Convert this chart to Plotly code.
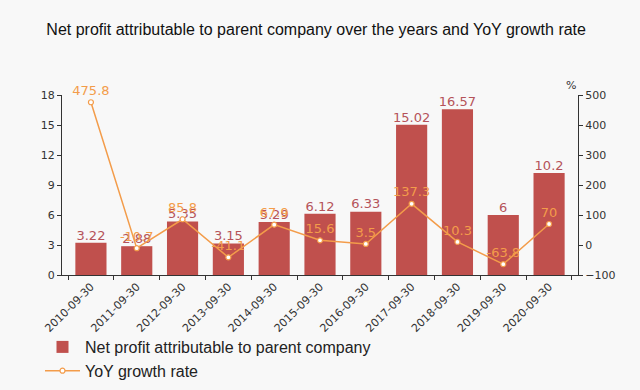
import plotly.graph_objects as go

years = ["2010-09-30", "2011-09-30", "2012-09-30", "2013-09-30", "2014-09-30", "2015-09-30",
         "2016-09-30", "2017-09-30", "2018-09-30", "2019-09-30", "2020-09-30"]
net_profit = [3.22, 2.88, 5.35, 3.15, 5.29, 6.12, 6.33, 15.02, 16.57, 6, 10.2]
yoy_growth = [475.8, -10.7, 85.8, -41.1, 67.9, 15.6, 3.5, 137.3, 10.3, -63.8, 70]
left_ticks = [0, 3, 6, 9, 12, 15, 18]
right_ticks = [-100, 0, 100, 200, 300, 400, 500]

bar_color = "#c0504d"
line_color = "#f39c4a"
bg = "#f8f8f8"

fig = go.Figure()
fig.add_trace(go.Bar(
    x=years, y=net_profit, name="Net profit attributable to parent company",
    marker=dict(color=bar_color, line=dict(width=0)), width=0.68,
))
fig.add_trace(go.Scatter(
    x=years, y=net_profit, mode="text", showlegend=False, hoverinfo="skip",
    text=[str(v) for v in net_profit], textposition="top center", cliponaxis=False,
    textfont=dict(color="#b5535a", size=13, family="DejaVu Sans"),
))
fig.add_trace(go.Scatter(
    x=years, y=yoy_growth, name="YoY growth rate", yaxis="y2", mode="lines+markers+text",
    line=dict(color=line_color, width=1.5),
    marker=dict(size=5, color="white", line=dict(color=line_color, width=1.2)),
    text=[str(v) for v in yoy_growth], textposition="top center", cliponaxis=False,
    textfont=dict(color=line_color, size=13, family="DejaVu Sans"),
))

axis_font = dict(family="DejaVu Sans", size=11, color="#333")
fig.update_layout(
    width=640, height=390,
    paper_bgcolor=bg, plot_bgcolor=bg,
    margin=dict(l=62, r=62, t=95, b=115, autoexpand=False),
    title=dict(text="Net profit attributable to parent company over the years and YoY growth rate",
               x=0.494, xanchor="center", y=0.925, yanchor="middle",
               font=dict(family="Liberation Sans", size=16, color="#111")),
    bargap=0.32,
    xaxis=dict(type="category", tickangle=-45, tickfont=axis_font, showgrid=False,
               showline=True, linecolor="#333", linewidth=1, ticks="outside", ticklen=4,
               tickcolor="#333", tickson="boundaries", automargin=False),
    yaxis=dict(range=[0, 18], tickvals=left_ticks, tickfont=axis_font, showgrid=False,
               showline=True, linecolor="#333", linewidth=1, ticks="outside", ticklen=4,
               tickcolor="#333", zeroline=False, automargin=False),
    yaxis2=dict(range=[-100, 500], tickvals=right_ticks, tickfont=axis_font, showgrid=False,
                overlaying="y", side="right", showline=True, linecolor="#333", linewidth=1,
                ticks="outside", ticklen=4, tickcolor="#333", zeroline=False, automargin=False),
    legend=dict(x=40 / 640, y=1 - 330 / 390, xref="container", yref="container",
                xanchor="left", yanchor="top", orientation="v",
                font=dict(family="Liberation Sans", size=16, color="#222"),
                bgcolor="rgba(0,0,0,0)", tracegroupgap=4, itemwidth=35),
    showlegend=True,
    annotations=[dict(text="%", xref="paper", yref="paper", x=1.0, y=1.0, yshift=18,
                      showarrow=False, font=dict(family="DejaVu Sans", size=11, color="#333"))],
)

fig.write_html(
    "out.html",
    config={"displayModeBar": False},
    post_script="document.body.style.margin='0';document.body.style.background='" + bg + "';",
)
